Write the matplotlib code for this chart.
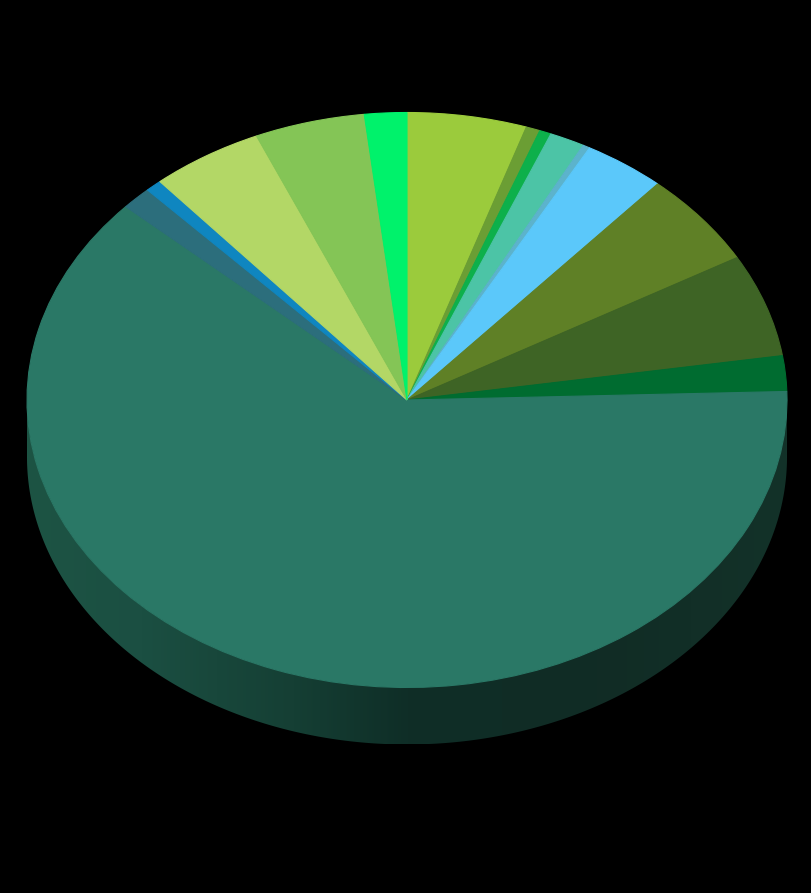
import numpy as np
import matplotlib
matplotlib.use("Agg")
import matplotlib.pyplot as plt
from matplotlib.colors import LinearSegmentedColormap
from matplotlib.patches import Polygon

# Slice shares (clockwise from 12 o'clock)
values = [5.1, 0.6, 0.5, 1.5, 0.3, 3.5, 5.3, 5.8, 2.0, 62.4, 1.3, 0.7, 4.8, 4.7, 1.8]
colors = ["#9bcb3c", "#6b9e34", "#0db04b", "#4cc4a6", "#5cb3cc", "#5bc8fa",
          "#5f8026", "#3e6425", "#006c30", "#2a7866", "#2c6e7c", "#0f86c0",
          "#b3d766", "#84c556", "#00f26b"]

W, H = 812, 893
fig = plt.figure(figsize=(W / 100, H / 100), dpi=100, facecolor="black")
ax = fig.add_axes([0, 0, 1, 1], facecolor="black")

s = 287.5 / 380.0          # vertical squash of the tilted disc
cx, cy = 407, (H - 400) / s
r = 380
depth = 57 / s

# side of the disc (front half) with horizontal shading
t = np.linspace(np.pi, 2 * np.pi, 300)
xt = cx + r * np.cos(t)
yt = cy + r * np.sin(t)
verts = np.vstack([np.column_stack([xt, yt]),
                   np.column_stack([xt[::-1], yt[::-1] - depth])])
side = Polygon(verts, closed=True, facecolor="none", edgecolor="none")
ax.add_patch(side)
cmap = LinearSegmentedColormap.from_list(
    "side", [(0.0, "#1d5444"), (0.15, "#1b4f42"), (0.35, "#153f34"),
             (0.5, "#0f2e27"), (0.75, "#112c25"), (1.0, "#133229")])
grad = np.linspace(0, 1, 256).reshape(1, -1)
im = ax.imshow(grad, cmap=cmap, aspect="auto",
               extent=[cx - r, cx + r, cy - r - depth, cy], zorder=1)
im.set_clip_path(side)

wedges, _ = ax.pie(values, colors=colors, startangle=90, counterclock=False,
                   center=(cx, cy), radius=r, frame=True,
                   wedgeprops=dict(linewidth=0.8))
for w, c in zip(wedges, colors):
    w.set_zorder(2)
    w.set_edgecolor(c)

ax.set_aspect("auto")
ax.set_xlim(0, W)
ax.set_ylim(0, H / s)
ax.axis("off")

fig.savefig("out.png", dpi=100, facecolor="black")
